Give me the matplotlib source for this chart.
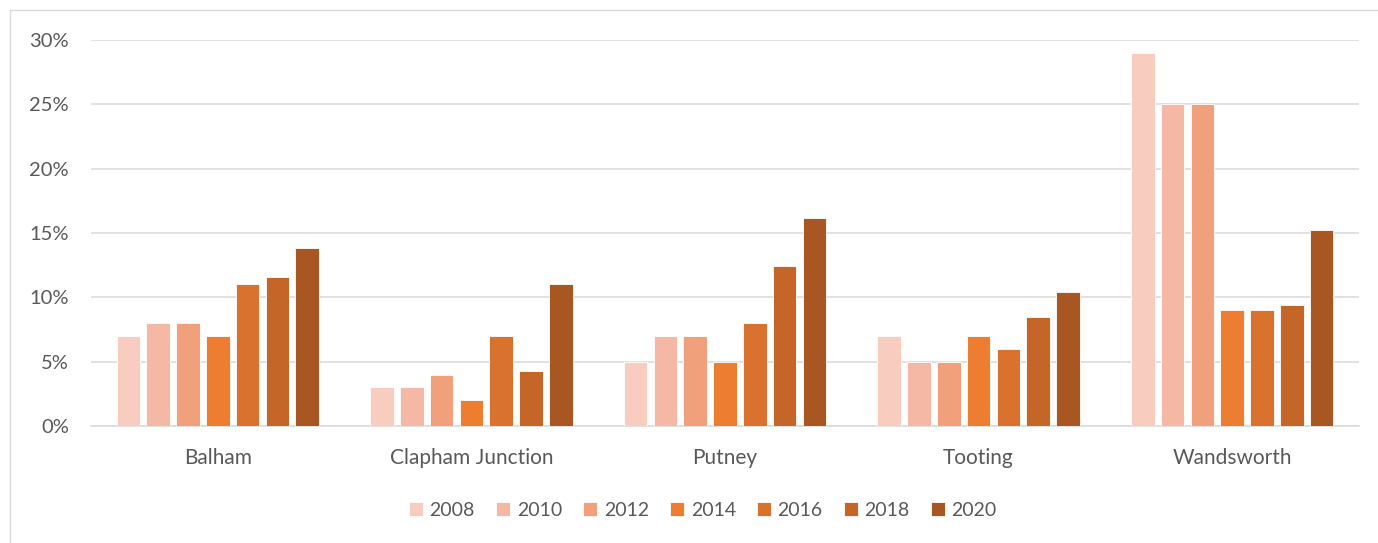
import matplotlib.pyplot as plt
from matplotlib.patches import Rectangle
from matplotlib.ticker import PercentFormatter
import numpy as np

plt.rcParams['font.family'] = ['Lato', 'DejaVu Sans']

# data
areas = ['Balham', 'Clapham Junction', 'Putney', 'Tooting', 'Wandsworth']
years = ['2008', '2010', '2012', '2014', '2016', '2018', '2020']
values = {
    '2008': [7.0, 3.0, 5.0, 7.0, 29.0],
    '2010': [8.0, 3.0, 7.0, 5.0, 25.0],
    '2012': [8.0, 4.0, 7.0, 5.0, 25.0],
    '2014': [7.0, 2.0, 5.0, 7.0, 9.0],
    '2016': [11.0, 7.0, 8.0, 6.0, 9.0],
    '2018': [11.6, 4.3, 12.4, 8.5, 9.4],
    '2020': [13.8, 11.0, 16.2, 10.4, 15.2],
}
colors = ['#F8CDC0', '#F4B8A4', '#F0A07B', '#ED7D31', '#D8722E', '#C46628', '#A85722']

W, H = 1378, 543
fig = plt.figure(figsize=(W / 100, H / 100), dpi=100)
ax = fig.add_axes([91 / W, 1 - 426 / H, (1359 - 91) / W, (426 - 40) / H])

x = np.arange(len(areas))
step = 0.1175
width = 0.093
for i, yr in enumerate(years):
    ax.bar(x + (i - 3) * step, np.array(values[yr]) / 100, width,
           color=colors[i], edgecolor='white', linewidth=0.6, label=yr, zorder=3)

ax.set_xlim(-0.5, len(areas) - 0.5)
ax.set_ylim(0, 0.30)
ax.set_yticks(np.arange(0, 0.31, 0.05))
ax.yaxis.set_major_formatter(PercentFormatter(1.0, decimals=0))
ax.set_xticks(x)
ax.set_xticklabels(areas)
ax.grid(axis='y', color='#D9D9D9', linewidth=1.1, zorder=0)
ax.tick_params(axis='y', length=0, pad=16, labelsize=14.5, labelcolor='#595959')
ax.tick_params(axis='x', length=0, pad=16, labelsize=15, labelcolor='#595959')
for s in ['top', 'right', 'left']:
    ax.spines[s].set_visible(False)
ax.spines['bottom'].set_color('#D9D9D9')
ax.spines['bottom'].set_linewidth(1.1)

leg = fig.legend(loc='center', bbox_to_anchor=(703 / W, 1 - 510 / H), ncol=7,
                 frameon=False, fontsize=14, handlelength=0.7, handleheight=0.7,
                 handletextpad=0.35, columnspacing=1.1)
for t in leg.get_texts():
    t.set_color('#595959')

# chart border
fig.patches.append(Rectangle((10 / W, -0.05), 1.2, 1 - 10 / H + 0.05,
                             transform=fig.transFigure, fill=False,
                             edgecolor='#D9D9D9', linewidth=1.0))

fig.savefig('out.png', dpi=100)
